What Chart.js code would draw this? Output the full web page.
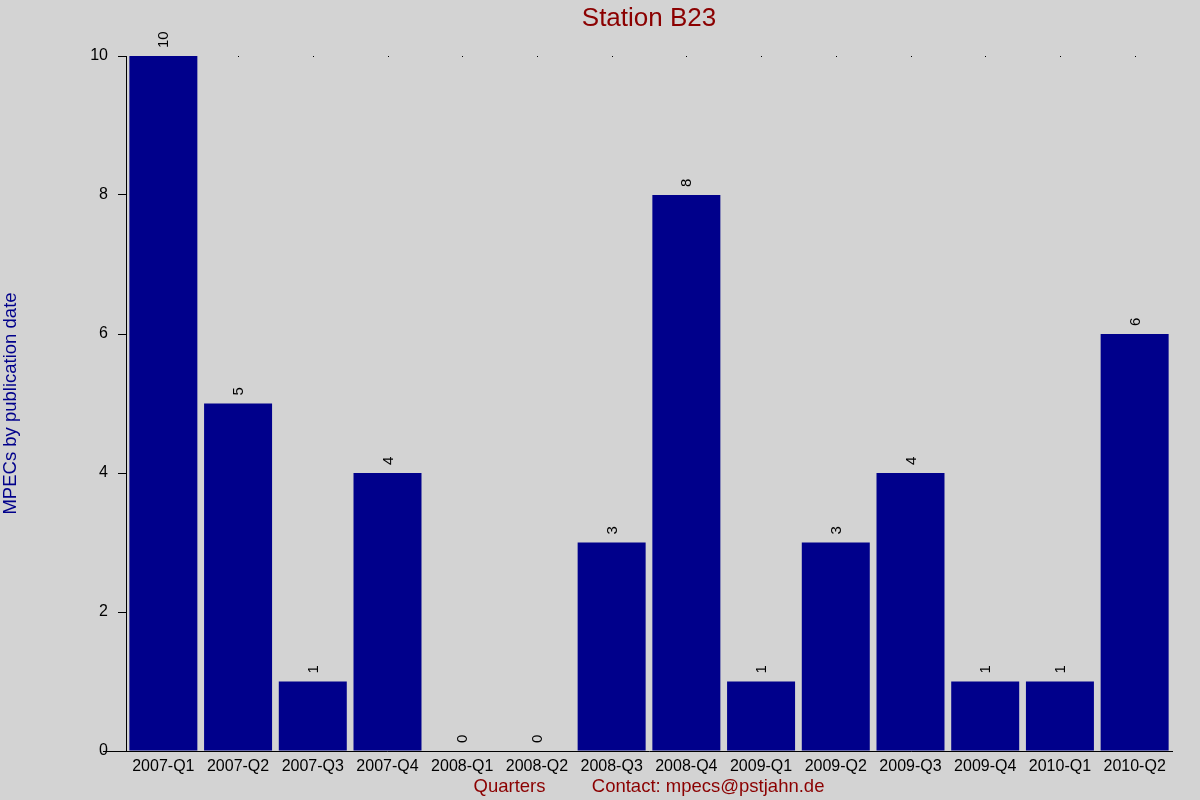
<!DOCTYPE html>
<html>
<head>
<meta charset="utf-8">
<script src="https://cdn.jsdelivr.net/npm/chart.js@4"></script>
<style>
  body { margin: 0; background: #d3d3d3; }
  canvas { display: block; }
</style>
</head>
<body>
<canvas id="chart" width="1200" height="800"></canvas>
<script>
const quarters = ['2007-Q1', '2007-Q2', '2007-Q3', '2007-Q4', '2008-Q1', '2008-Q2', '2008-Q3',
  '2008-Q4', '2009-Q1', '2009-Q2', '2009-Q3', '2009-Q4', '2010-Q1', '2010-Q2'];
const mpecs = [10, 5, 1, 4, 0, 0, 3, 8, 1, 3, 4, 1, 1, 6];
const yTicks = [0, 2, 4, 6, 8, 10];

const FONT = 'Arial, "Liberation Sans", sans-serif';

// background, title, bar value labels and the small dots on the top line
const extras = {
  id: 'extras',
  beforeDraw(chart) {
    const ctx = chart.ctx;
    ctx.save();
    ctx.fillStyle = '#d3d3d3';
    ctx.fillRect(0, 0, chart.width, chart.height);
    ctx.restore();
  },
  afterDraw(chart) {
    const ctx = chart.ctx;
    const area = chart.chartArea;
    const x = chart.scales.x, y = chart.scales.y;
    ctx.save();
    ctx.fillStyle = '#8b0000';
    ctx.font = '26px ' + FONT;
    ctx.textAlign = 'center';
    ctx.textBaseline = 'middle';
    ctx.fillText('Station B23', (area.left + area.right) / 2, 19);

    // x axis line runs a bit left of the y axis
    ctx.strokeStyle = '#000';
    ctx.lineWidth = 1;
    ctx.beginPath();
    ctx.moveTo(103, Math.round(area.bottom) + 0.5);
    ctx.lineTo(area.left, Math.round(area.bottom) + 0.5);
    ctx.stroke();

    ctx.fillStyle = '#000';
    const topY = y.getPixelForValue(10);
    quarters.forEach((q, i) => {
      if (mpecs[i] < 10) ctx.fillRect(Math.round(x.getPixelForValue(i)), Math.round(topY), 1, 1);
    });

    ctx.font = '15px ' + FONT;
    ctx.textAlign = 'left';
    ctx.textBaseline = 'middle';
    chart.getDatasetMeta(0).data.forEach((bar, i) => {
      ctx.save();
      ctx.translate(bar.x + 1, bar.y - 8);
      ctx.rotate(-Math.PI / 2);
      ctx.fillText(String(mpecs[i]), 0, 0);
      ctx.restore();
    });
    ctx.restore();
  }
};

new Chart(document.getElementById('chart'), {
  type: 'bar',
  data: {
    labels: quarters,
    datasets: [{
      label: 'MPECs',
      data: mpecs,
      backgroundColor: '#00008b',
      borderWidth: 0,
      barPercentage: 0.91,
      categoryPercentage: 1
    }]
  },
  options: {
    responsive: false,
    animation: false,
    layout: { padding: { left: 0, right: 28, top: 56, bottom: 0 } },
    plugins: {
      legend: { display: false },
      title: { display: false },
      tooltip: { enabled: false }
    },
    scales: {
      x: {
        grid: { display: false },
        border: { display: true, color: '#000', width: 1 },
        ticks: { color: '#000', font: { family: FONT, size: 16 }, padding: -2, maxRotation: 0, autoSkip: false },
        title: {
          display: true,
          text: 'Quarters         Contact: mpecs@pstjahn.de',
          color: '#8b0000',
          font: { family: FONT, size: 18.5 },
          padding: { top: 0, bottom: 2 }
        },
        afterFit(scale) { scale.height = 49; }
      },
      y: {
        min: 0,
        max: 10,
        afterBuildTicks(scale) { scale.ticks = yTicks.map(v => ({ value: v })); },
        grid: { drawOnChartArea: false, drawTicks: true, tickLength: 8, color: '#000' },
        border: { display: true, color: '#000', width: 1 },
        ticks: { color: '#000', font: { family: FONT, size: 16 }, padding: 10 },
        title: {
          display: true,
          text: 'MPECs by publication date',
          color: '#00008b',
          font: { family: FONT, size: 18.5 },
          padding: { top: 0, bottom: 0 }
        },
        afterFit(scale) { scale.width = 126; }
      }
    }
  },
  plugins: [extras]
});
</script>
</body>
</html>
